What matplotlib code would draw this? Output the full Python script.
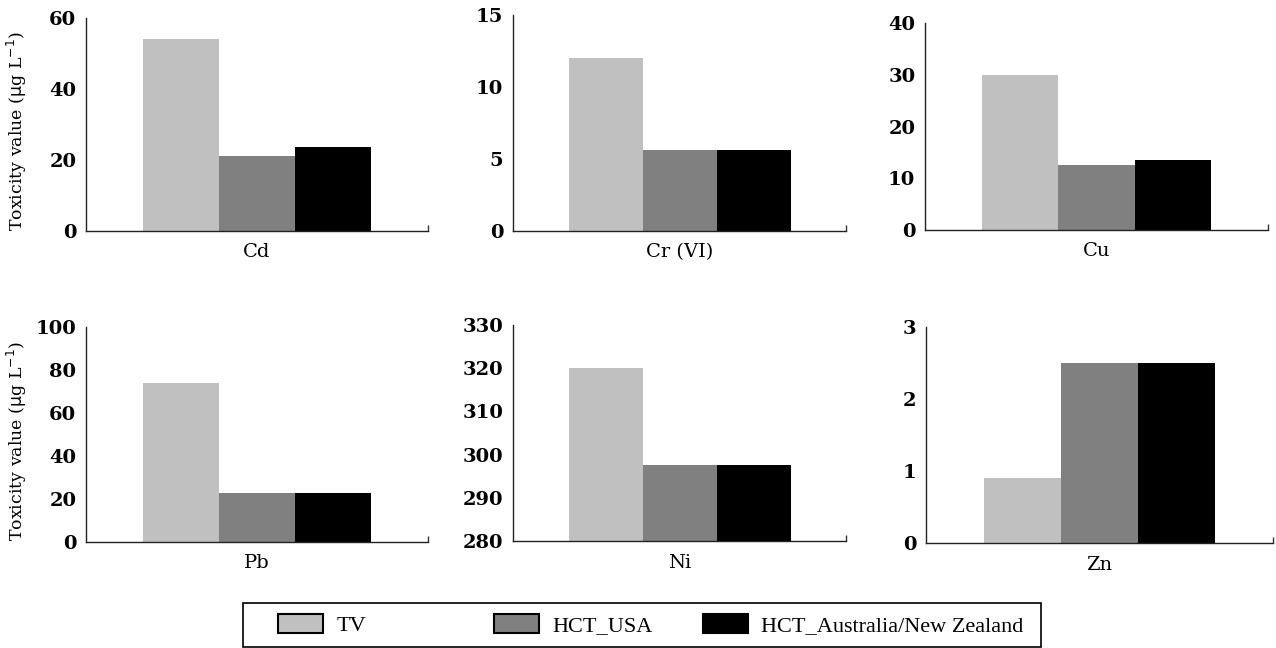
import numpy as np
import matplotlib
matplotlib.use("Agg")
import matplotlib.pyplot as plt
from matplotlib.patches import Rectangle

metals = ["Cd", "Cr (VI)", "Cu", "Pb", "Ni", "Zn"]
series = ["TV", "HCT_USA", "HCT_Australia/New Zealand"]
colors = ["#c0c0c0", "#808080", "#000000"]

tv = [54.0, 12.0, 30.0, 74.0, 320.0, 0.9]
hct_usa = [21.0, 5.6, 12.6, 22.6, 297.5, 2.5]
hct_aus = [23.6, 5.6, 13.6, 23.0, 297.5, 2.5]

ylims = [(0, 60), (0, 15), (0, 40), (0, 100), (280, 330), (0, 3)]
ysteps = [20, 5, 10, 20, 10, 1]

# axes boxes in pixels (left, top, right, bottom)
W, H = 1276, 648
boxes = [(86, 18, 428, 231), (513, 15, 846, 231), (925, 23, 1268, 230),
         (86, 327, 428, 542), (513, 325, 846, 541), (926, 327, 1273, 543)]

plt.rcParams["font.family"] = ["DejaVu Serif"]

fig = plt.figure(figsize=(W / 100, H / 100), dpi=100)

for i, name in enumerate(metals):
    l, t, r, b = boxes[i]
    ax = fig.add_axes([l / W, 1 - b / H, (r - l) / W, (b - t) / H])
    vals = [tv[i], hct_usa[i], hct_aus[i]]
    lo = ylims[i][0]
    for k, v in enumerate(vals):
        ax.bar(k, v - lo, width=1.0, bottom=lo, color=colors[k], edgecolor="none")
    ax.set_xlim(-1.25, 3.25)
    ax.set_ylim(*ylims[i])
    ax.set_yticks(np.arange(ylims[i][0], ylims[i][1] + 0.001, ysteps[i]))
    ax.set_xticks([1])
    ax.set_xticklabels([name], fontsize=14)
    ax.tick_params(axis="y", length=0, pad=7, labelsize=14)
    ax.tick_params(axis="x", length=0, pad=9)
    for lab in ax.get_yticklabels():
        lab.set_fontweight("bold")
    # small end ticks: top of y axis, right end of x axis
    ax.set_yticks([ylims[i][1]], minor=True)
    ax.set_xticks([3.25], minor=True)
    ax.tick_params(which="minor", direction="in", length=4, width=1, color="#333333")
    ax.spines[["top", "right"]].set_visible(False)
    for s in ["left", "bottom"]:
        ax.spines[s].set_color("#222222")
        ax.spines[s].set_linewidth(1.0)
    if i % 3 == 0:
        ax.set_ylabel(r"Toxicity value ($\mathrm{\mu}$g L$^{-1}$)", fontsize=12.5)
        ax.yaxis.set_label_coords(-0.168, 0.47)

# legend frame
fig.add_artist(Rectangle((243 / W, 1 - 647 / H), (1041 - 243) / W, (647 - 603) / H,
                         transform=fig.transFigure, fill=False, edgecolor="black", lw=1.2))
patch_x = [277, 493, 702]
for k in range(3):
    fig.legend([Rectangle((0, 0), 1, 1, facecolor=colors[k], edgecolor="black", lw=1.5)],
               [series[k]], loc="center left", frameon=False,
               bbox_to_anchor=(patch_x[k] / W - 0.0145, 1 - 625 / H),
               prop={"family": "Liberation Serif", "size": 16},
               handlelength=2.0, handleheight=0.95, handletextpad=0.6)

fig.savefig("out.png", dpi=100)
